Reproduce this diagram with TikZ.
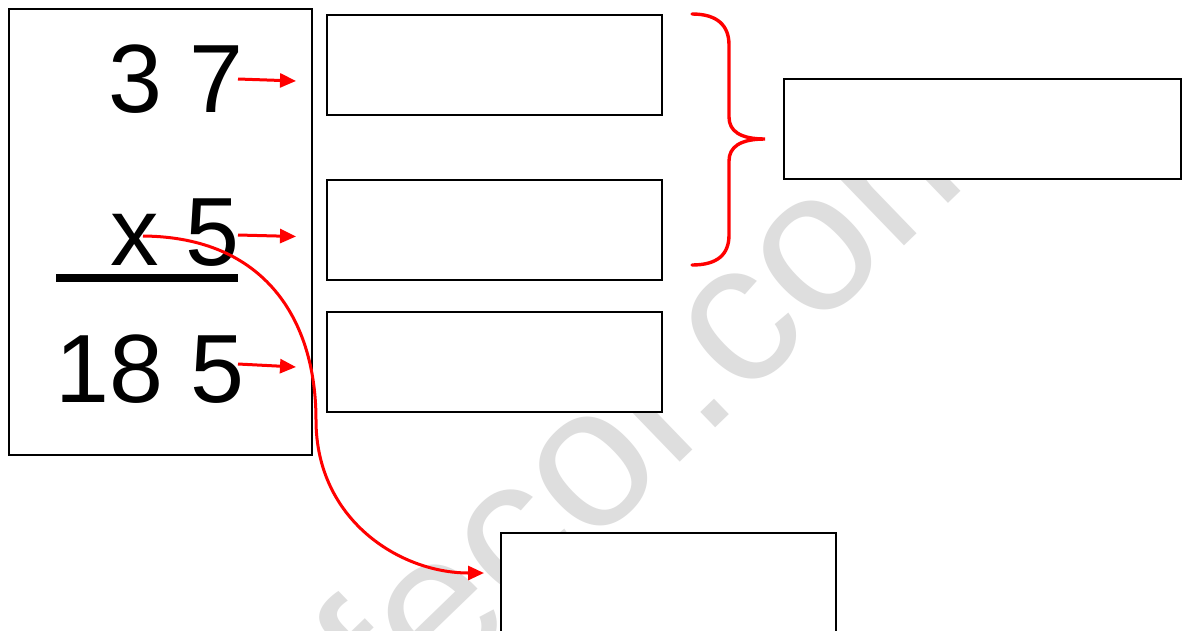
\documentclass[tikz,border=0pt]{standalone}
\usepackage{fontspec}
\setmainfont{Liberation Sans}
\newfontfamily\wmfont{Liberation Sans}
\usetikzlibrary{arrows.meta}
\definecolor{wmgray}{RGB}{222,222,222}
\definecolor{ared}{RGB}{255,0,0}
\tikzset{
  box/.style={draw=black, line width=2.2pt, fill=white, inner sep=0pt, outer sep=0pt},
  digits/.style={font=\fontsize{97}{97}\selectfont, inner sep=0pt, anchor=base west},
  redarrow/.style={draw=ared, line width=3pt, -{Triangle[length=16pt,width=14pt]}},
  bracestyle/.style={draw=ared, line width=3.4pt, line cap=round},
}
\begin{document}
\begin{tikzpicture}[x=1pt,y=-1pt]
\useasboundingbox (0,0) rectangle (1188,630);
\clip (0,0) rectangle (1188,630);
\fill[white] (0,0) rectangle (1188,630);
% watermark
\node[rotate=44, anchor=base west, inner sep=0pt, text=wmgray,
      font=\wmfont\fontsize{200}{200}\selectfont] (wm) at (398.5,733.9) {fecol.com};
% boxes
\node[box, minimum width=303pt, minimum height=446pt] (left) at (160.5,232) {};
\node[box, minimum width=335pt, minimum height=100pt] (b1) at (494.5,65) {};
\node[box, minimum width=335pt, minimum height=100pt] (b2) at (494.5,230) {};
\node[box, minimum width=335pt, minimum height=100pt] (b3) at (494.5,362) {};
\node[box, minimum width=397pt, minimum height=100pt] (br) at (982.5,129) {};
\node[box, minimum width=335pt, minimum height=167pt] (b4) at (668.5,616.5) {};
% digits
\node[digits] (n37) at (108,112) {3 7};
\node[digits] (nx5) at (110,265) {x 5};
\node[digits] (n185) at (55.5,402) {18 5};
\draw[line width=8pt] (56,278) -- (238,278);
% arrow ends
\coordinate (s1) at (238,79);
\coordinate (t1) at (296,81);
\coordinate (s2) at (238,235);
\coordinate (t2) at (296,236.5);
\coordinate (s3) at (238,364);
\coordinate (t3) at (296,367);
\coordinate (cs) at (143,236);
\coordinate (ce) at (484,573);
\draw[redarrow] (s1) -- (t1);
\draw[redarrow] (s2) -- (t2);
\draw[redarrow] (s3) -- (t3);
\draw[redarrow] (cs) .. controls (265,237) and (316,320) .. (316,420)
                     .. controls (316,520) and (400,573) .. (ce);
% brace
\draw[bracestyle] (692,14) .. controls (718,14) and (729,26) .. (729,45)
  -- (729,117) .. controls (729,131) and (740,139) .. (765,139)
  .. controls (740,139) and (729,147) .. (729,161)
  -- (729,235) .. controls (729,254) and (718,265) .. (692,265);
\end{tikzpicture}
\end{document}
